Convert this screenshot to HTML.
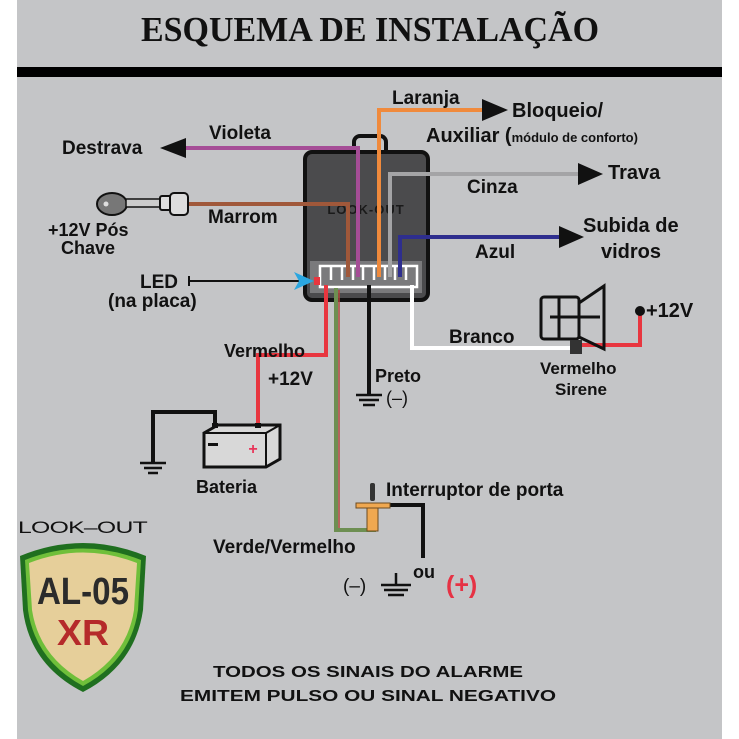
<!DOCTYPE html>
<html><head><meta charset="utf-8"><style>
html,body{margin:0;padding:0;background:#fff;}
svg{display:block;}
text{font-family:"Liberation Sans",Arial,sans-serif;font-weight:bold;fill:#111;}
</style></head><body>
<svg width="739" height="739" viewBox="0 0 739 739" xmlns="http://www.w3.org/2000/svg">
<rect x="0" y="0" width="739" height="739" fill="#fff"/>
<rect x="17" y="0" width="705" height="739" fill="#c4c5c7"/>
<text x="370" y="41" text-anchor="middle" style="font-family:'Liberation Serif',serif;font-size:35px;" textLength="458" lengthAdjust="spacingAndGlyphs">ESQUEMA DE INSTALAÇÃO</text>
<rect x="17" y="67" width="705" height="10" fill="#000"/>

<!-- box -->
<path d="M354 152 v-10 a6 6 0 0 1 6 -6 h20 a6 6 0 0 1 6 6 v10" fill="none" stroke="#111" stroke-width="4"/>
<rect x="305" y="152" width="123" height="148" rx="7" fill="#4b4b4d" stroke="#111" stroke-width="4"/>
<text x="366" y="214" text-anchor="middle" style="font-size:13px;fill:#1a1a1a;letter-spacing:1px">LOOK-OUT</text>
<rect x="310" y="261" width="112" height="32" fill="#7a7a7c"/>
<rect x="320" y="266" width="97" height="21" fill="none" stroke="#fff" stroke-width="2.5"/>
<g stroke="#fff" stroke-width="2.5">
<line x1="331" y1="266" x2="331" y2="280"/><line x1="342" y1="266" x2="342" y2="280"/><line x1="353" y1="266" x2="353" y2="280"/><line x1="363" y1="266" x2="363" y2="280"/><line x1="374" y1="266" x2="374" y2="280"/><line x1="385" y1="266" x2="385" y2="280"/><line x1="395" y1="266" x2="395" y2="280"/><line x1="406" y1="266" x2="406" y2="280"/>
</g>

<!-- wires -->
<g fill="none" stroke-width="4">
<polyline points="185,148 358,148 358,277" stroke="#a54d96"/>
<polyline points="188,204 348,204 348,277" stroke="#a0583a"/>
<polyline points="379,277 379,110 484,110" stroke="#f08a3c"/>
<polyline points="390,277 390,174 584,174" stroke="#a4a4a6"/>
<polyline points="400,277 400,237 564,237" stroke="#2e2e8e"/>
<polyline points="326,285 326,355 258,355 258,430" stroke="#e8363f"/>
<polyline points="369,285 369,395" stroke="#111"/>
<polyline points="412,285 412,348 578,348" stroke="#fff"/>
<polyline points="215,428 215,412 153,412 153,462" stroke="#111"/>
<polyline points="336,288 336,530 376,530" stroke="#6d8f52"/>
<polyline points="390,505 423,505 423,558" stroke="#111"/>
<polyline points="573,345 640,345 640,312" stroke="#e8363f"/>
</g>
<line x1="339" y1="290" x2="339" y2="528" stroke="#b0453a" stroke-width="1.5"/>
<!-- arrows -->
<polygon points="160,148 186,138 186,158" fill="#111"/>
<polygon points="508,110 482,99 482,121" fill="#111"/>
<polygon points="603,174 578,163 578,185" fill="#111"/>
<polygon points="584,237 559,226 559,248" fill="#111"/>
<!-- LED -->
<line x1="188" y1="281" x2="300" y2="281" stroke="#111" stroke-width="2"/>
<line x1="189" y1="276" x2="189" y2="286" stroke="#111" stroke-width="2"/>
<polygon points="314,281 294,272 299,281 294,290" fill="#2aa6e0"/>
<rect x="314" y="277" width="6" height="8" fill="#e8363f"/>

<!-- key -->
<ellipse cx="112" cy="204" rx="15" ry="11" fill="#777" stroke="#111" stroke-width="2"/>
<circle cx="106" cy="204" r="2.5" fill="#ddd"/>
<rect x="126" y="199" width="34" height="8" fill="#ccc" stroke="#111" stroke-width="1.5"/>
<rect x="160" y="196" width="12" height="14" rx="2" fill="#ddd" stroke="#111" stroke-width="2"/>
<rect x="170" y="193" width="18" height="22" rx="4" fill="#ddd" stroke="#111" stroke-width="2"/>

<!-- battery -->
<path d="M204 433 l14 -8 h62 l0 34 -14 8 h-62 z" fill="#d8d8d8" stroke="#111" stroke-width="3"/>
<line x1="204" y1="433" x2="266" y2="433" stroke="#111" stroke-width="2"/>
<line x1="266" y1="433" x2="280" y2="425" stroke="#111" stroke-width="2"/>
<line x1="266" y1="433" x2="266" y2="467" stroke="#111" stroke-width="2"/>
<rect x="212" y="423" width="6" height="5" fill="#111"/><rect x="255" y="423" width="6" height="5" fill="#111"/>
<rect x="208" y="443" width="10" height="3" fill="#111"/>
<text x="253" y="454" text-anchor="middle" style="font-size:16px;fill:#e8365a">+</text>
<!-- grounds -->
<g stroke="#111" stroke-width="2.5">
<line x1="140" y1="463" x2="166" y2="463"/><line x1="144" y1="468" x2="162" y2="468"/><line x1="148" y1="473" x2="158" y2="473"/>
<line x1="356" y1="395" x2="382" y2="395"/><line x1="359" y1="400" x2="379" y2="400"/><line x1="363" y1="405" x2="375" y2="405"/>
<line x1="396" y1="573" x2="396" y2="585"/><line x1="381" y1="585" x2="411" y2="585"/><line x1="384" y1="590" x2="408" y2="590"/><line x1="388" y1="595" x2="404" y2="595"/>
</g>
<!-- door switch -->
<rect x="370" y="483" width="5" height="18" rx="2" fill="#333"/>
<rect x="356" y="503" width="34" height="5" fill="#f0a850" stroke="#6b4a20" stroke-width="1"/>
<rect x="367" y="508" width="11" height="23" fill="#f0a850" stroke="#6b4a20" stroke-width="1"/>
<!-- siren -->
<g fill="none" stroke="#111" stroke-width="3">
<rect x="541" y="297" width="38" height="42" rx="3"/>
<path d="M579 303 l25 -17 v63 l-25 -12 z"/>
<line x1="559" y1="297" x2="559" y2="339"/>
<line x1="550" y1="317" x2="600" y2="317"/>
</g>
<rect x="570" y="340" width="12" height="14" fill="#333"/>
<circle cx="640" cy="311" r="5" fill="#111"/>

<!-- labels -->
<text x="62" y="154" style="font-size:19px">Destrava</text>
<text x="209" y="139" style="font-size:19px">Violeta</text>
<text x="208" y="223" style="font-size:19px">Marrom</text>
<text x="48" y="236" style="font-size:18px">+12V Pós</text>
<text x="61" y="254" style="font-size:18px">Chave</text>
<text x="140" y="288" style="font-size:19px">LED</text>
<text x="108" y="307" style="font-size:19px">(na placa)</text>
<text x="392" y="104" style="font-size:19px">Laranja</text>
<text x="512" y="117" style="font-size:20px">Bloqueio/</text>
<text x="426" y="142" style="font-size:20px">Auxiliar (<tspan style="font-size:13px">módulo de conforto)</tspan></text>
<text x="467" y="193" style="font-size:19px">Cinza</text>
<text x="608" y="179" style="font-size:20px">Trava</text>
<text x="583" y="232" style="font-size:20px">Subida de</text>
<text x="601" y="258" style="font-size:20px">vidros</text>
<text x="475" y="258" style="font-size:19px">Azul</text>
<text x="646" y="317" style="font-size:20px">+12V</text>
<text x="449" y="343" style="font-size:19px">Branco</text>
<text x="540" y="374" style="font-size:17px">Vermelho</text>
<text x="555" y="395" style="font-size:17px">Sirene</text>
<text x="224" y="357" style="font-size:18px">Vermelho</text>
<text x="268" y="385" style="font-size:19px">+12V</text>
<text x="375" y="382" style="font-size:18px">Preto</text>
<text x="386" y="404" style="font-size:18px;font-weight:normal">(–)</text>
<text x="196" y="493" style="font-size:18px">Bateria</text>
<text x="386" y="496" style="font-size:19px">Interruptor de porta</text>
<text x="213" y="553" style="font-size:19px">Verde/Vermelho</text>
<text x="343" y="592" style="font-size:19px;font-weight:normal">(–)</text>
<text x="413" y="578" style="font-size:18px">ou</text>
<text x="446" y="593" style="font-size:25px;fill:#e63244">(+)</text>
<text x="368" y="677" text-anchor="middle" style="font-size:16px" textLength="310" lengthAdjust="spacingAndGlyphs">TODOS OS SINAIS DO ALARME</text>
<text x="368" y="701" text-anchor="middle" style="font-size:16px" textLength="376" lengthAdjust="spacingAndGlyphs">EMITEM PULSO OU SINAL NEGATIVO</text>

<!-- logo -->
<text x="18" y="533" style="font-size:17px;font-weight:normal;letter-spacing:-0.5px" textLength="129" lengthAdjust="spacingAndGlyphs">LOOK–OUT</text>
<path d="M20 556 Q83 530 146 556 L143 610 Q135 665 83 692 Q30 665 23 610 Z" fill="#1f6f1f"/>
<path d="M25 560 Q83 537 141 560 L138 610 Q131 660 83 686 Q35 660 28 610 Z" fill="#6fbf3a"/>
<path d="M29 563 Q83 542 137 563 L134 610 Q127 656 83 681 Q39 656 32 610 Z" fill="#e6cf9a"/>
<text x="83" y="604" text-anchor="middle" style="font-size:38px;fill:#2b2b2b" textLength="92" lengthAdjust="spacingAndGlyphs">AL-05</text>
<text x="83" y="645" text-anchor="middle" style="font-size:36px;fill:#b52a2a" textLength="52" lengthAdjust="spacingAndGlyphs">XR</text>
</svg>
</body></html>
